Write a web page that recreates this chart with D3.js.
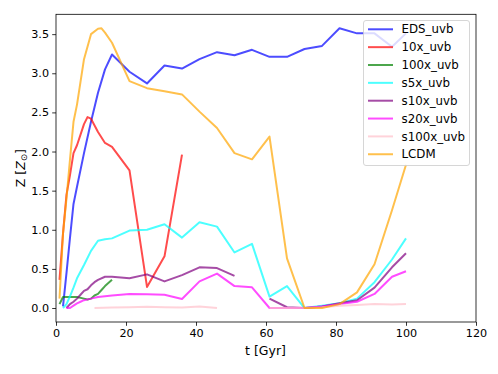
<!DOCTYPE html>
<html>
<head>
<meta charset="utf-8">
<script src="https://cdn.jsdelivr.net/npm/d3@7"></script>
<style>
  body { margin: 0; background: #fff; }
  text { font-family: "DejaVu Sans", sans-serif; }
</style>
</head>
<body>
<svg width="498" height="374"></svg>
<script>
// series data
const tEDS = [2, 3, 4, 5, 6, 8, 10, 12, 14, 16, 21, 26, 31, 36, 41, 46, 51, 56, 61, 66, 71, 76, 81, 86, 91, 96, 100];
const zEDS = [0.02, 0.45, 0.9, 1.33, 1.55, 1.98, 2.38, 2.75, 3.05, 3.24, 3.02, 2.87, 3.1, 3.06, 3.18, 3.27, 3.23, 3.3, 3.21, 3.21, 3.31, 3.35, 3.575, 3.51, 3.51, 3.34, 3.51];

const t10x = [1, 2, 3, 4, 5, 6, 8, 9, 10, 12, 14, 16, 21, 26, 31, 36];
const z10x = [0.36, 0.95, 1.45, 1.7, 1.98, 2.08, 2.35, 2.44, 2.42, 2.25, 2.11, 2.06, 1.76, 0.27, 0.66, 1.96];

const t100x = [1, 2, 4, 6, 8, 9, 10, 11, 12, 13, 14, 16];
const z100x = [0.05, 0.14, 0.14, 0.14, 0.12, 0.11, 0.12, 0.16, 0.18, 0.23, 0.28, 0.36];

const ts5x = [2, 3, 4, 5, 6, 8, 10, 12, 14, 16, 21, 26, 31, 36, 41, 46, 51, 56, 61, 66, 71, 76, 81, 86, 91, 96, 100];
const zs5x = [0.0, 0.05, 0.15, 0.26, 0.38, 0.55, 0.73, 0.86, 0.88, 0.89, 0.99, 1.0, 1.07, 0.9, 1.095, 1.04, 0.71, 0.82, 0.145, 0.28, 0.0, 0.03, 0.06, 0.12, 0.33, 0.62, 0.89];

// gap (null) between 51 and 61
const ts10x = [3, 4, 5, 6, 7, 8, 9, 10, 11, 12, 14, 16, 21, 26, 31, 36, 41, 46, 51, 56, 61, 66, 71, 76, 81, 86, 91, 96, 100];
const zs10x = [0.0, 0.05, 0.08, 0.12, 0.17, 0.22, 0.24, 0.29, 0.33, 0.36, 0.4, 0.4, 0.38, 0.43, 0.34, 0.42, 0.52, 0.51, 0.41, null, 0.12, 0.01, 0.0, 0.02, 0.06, 0.1, 0.26, 0.52, 0.7];

const ts20x = [3, 4, 5, 6, 7, 8, 10, 12, 14, 16, 21, 26, 31, 36, 41, 46, 51, 56, 61, 66, 71, 76, 81, 86, 91, 96, 100];
const zs20x = [0, 0, 0.03, 0.06, 0.08, 0.1, 0.12, 0.14, 0.15, 0.16, 0.18, 0.175, 0.17, 0.115, 0.34, 0.44, 0.28, 0.265, 0, 0, 0, 0.02, 0.05, 0.08, 0.18, 0.4, 0.47];

const ts100x = [11, 16, 21, 26, 31, 36, 41, 46, 51, 56, 61, 66, 71, 76, 81, 86, 91, 96, 100];
const zs100x = [0, 0.005, 0.01, 0.015, 0.01, 0.005, 0.02, 0.0, null, null, 0, 0, 0, 0.01, 0.03, 0.04, 0.05, 0.045, 0.05];

const tLCDM = [1, 2, 3, 4, 5, 6, 8, 10, 12, 13, 14, 16, 21, 26, 31, 36, 41, 46, 51, 56, 61, 66, 71, 76, 81, 86, 91, 96, 100];
const zLCDM = [0.12, 0.95, 1.4, 1.9, 2.38, 2.6, 3.18, 3.5, 3.57, 3.575, 3.52, 3.39, 2.9, 2.81, 2.77, 2.73, 2.51, 2.3, 1.98, 1.9, 2.19, 0.635, 0.0, 0.0, 0.05, 0.2, 0.56, 1.25, 1.83];

const seriesNames = ["EDS_uvb", "10x_uvb", "100x_uvb", "s5x_uvb", "s10x_uvb", "s20x_uvb", "s100x_uvb", "LCDM"];
const seriesColors = ["blue", "red", "green", "cyan", "purple", "magenta", "pink", "orange"];
const seriesT = [tEDS, t10x, t100x, ts5x, ts10x, ts20x, ts100x, tLCDM];
const seriesZ = [zEDS, z10x, z100x, zs5x, zs10x, zs20x, zs100x, zLCDM];

const xTicks = [0, 20, 40, 60, 80, 100, 120];
const yTicks = [0.0, 0.5, 1.0, 1.5, 2.0, 2.5, 3.0, 3.5];

const mLeft = 56, mRight = 476, mTop = 14.3, mBottom = 322;

const svg = d3.select("svg");

const series = seriesNames.map((name, i) => ({
  name: name,
  color: seriesColors[i],
  pts: seriesT[i].map((t, j) => ({ t: t, z: seriesZ[i][j] }))
}));

// matplotlib-style 5% margin on y
const allZ = seriesZ.flat().filter(v => v != null);
const zmin = d3.min(allZ), zmax = d3.max(allZ);
const pad = (zmax - zmin) * 0.05;

const x = d3.scaleLinear().domain([0, 120]).range([mLeft, mRight]);
const y = d3.scaleLinear().domain([zmin - pad, zmax + pad]).range([mBottom, mTop]);

const line = d3.line()
  .defined(d => d.z != null)
  .x(d => x(d.t))
  .y(d => y(d.z));

svg.append("g")
  .selectAll("path")
  .data(series)
  .enter()
  .append("path")
  .attr("d", d => line(d.pts))
  .attr("fill", "none")
  .attr("stroke", d => d.color)
  .attr("stroke-opacity", 0.7)
  .attr("stroke-width", 2)
  .attr("stroke-linejoin", "round");

// axes
const xAxis = d3.axisBottom(x).tickValues(xTicks).tickFormat(d3.format("d")).tickSizeInner(3.8).tickSizeOuter(0).tickPadding(2.8);
const yAxis = d3.axisLeft(y).tickValues(yTicks).tickFormat(d3.format(".1f")).tickSizeInner(3.8).tickSizeOuter(0).tickPadding(3.2);

const gx = svg.append("g").attr("transform", `translate(0,${mBottom})`).call(xAxis);
const gy = svg.append("g").attr("transform", `translate(${mLeft},0)`).call(yAxis);
[gx, gy].forEach(g => {
  g.select(".domain").remove();
  g.selectAll("line").attr("stroke", "#000").attr("stroke-width", 0.8);
  g.selectAll("text").attr("fill", "#000").style("font-size", "11.2px");
});

// spines
svg.append("rect")
  .attr("x", mLeft).attr("y", mTop)
  .attr("width", mRight - mLeft).attr("height", mBottom - mTop)
  .attr("fill", "none").attr("stroke", "#000").attr("stroke-width", 0.8);

// axis labels
svg.append("text")
  .attr("x", 265.5).attr("y", 354.5)
  .attr("text-anchor", "middle")
  .style("font-size", "12.5px")
  .text("t [Gyr]");

const ylab = svg.append("text")
  .attr("transform", `translate(24.5,${(mTop + mBottom) / 2}) rotate(-90)`)
  .attr("text-anchor", "middle")
  .style("font-size", "12.5px");
ylab.append("tspan").text("Z [");
ylab.append("tspan").style("font-style", "italic").text("Z");
ylab.append("tspan").attr("dy", 2.8).style("font-size", "8.8px").text("⊙");
ylab.append("tspan").attr("dy", -2.8).text("]");

// legend
const lg = svg.append("g").attr("transform", "translate(363.5,20.5)");
lg.append("rect")
  .attr("width", 106).attr("height", 145)
  .attr("rx", 2.5)
  .attr("fill", "#fff").attr("fill-opacity", 0.8)
  .attr("stroke", "#ccc").attr("stroke-width", 0.8);

const rows = lg.selectAll("g.row")
  .data(series)
  .enter()
  .append("g")
  .attr("class", "row")
  .attr("transform", (d, i) => `translate(0,${8.8 + i * 17.85})`);
rows.append("line")
  .attr("x1", 4.5).attr("x2", 29.5)
  .attr("stroke", d => d.color).attr("stroke-opacity", 0.7).attr("stroke-width", 2);
rows.append("text")
  .attr("x", 38).attr("dy", "0.35em")
  .style("font-size", "11.8px")
  .text(d => d.name);
</script>
</body>
</html>
